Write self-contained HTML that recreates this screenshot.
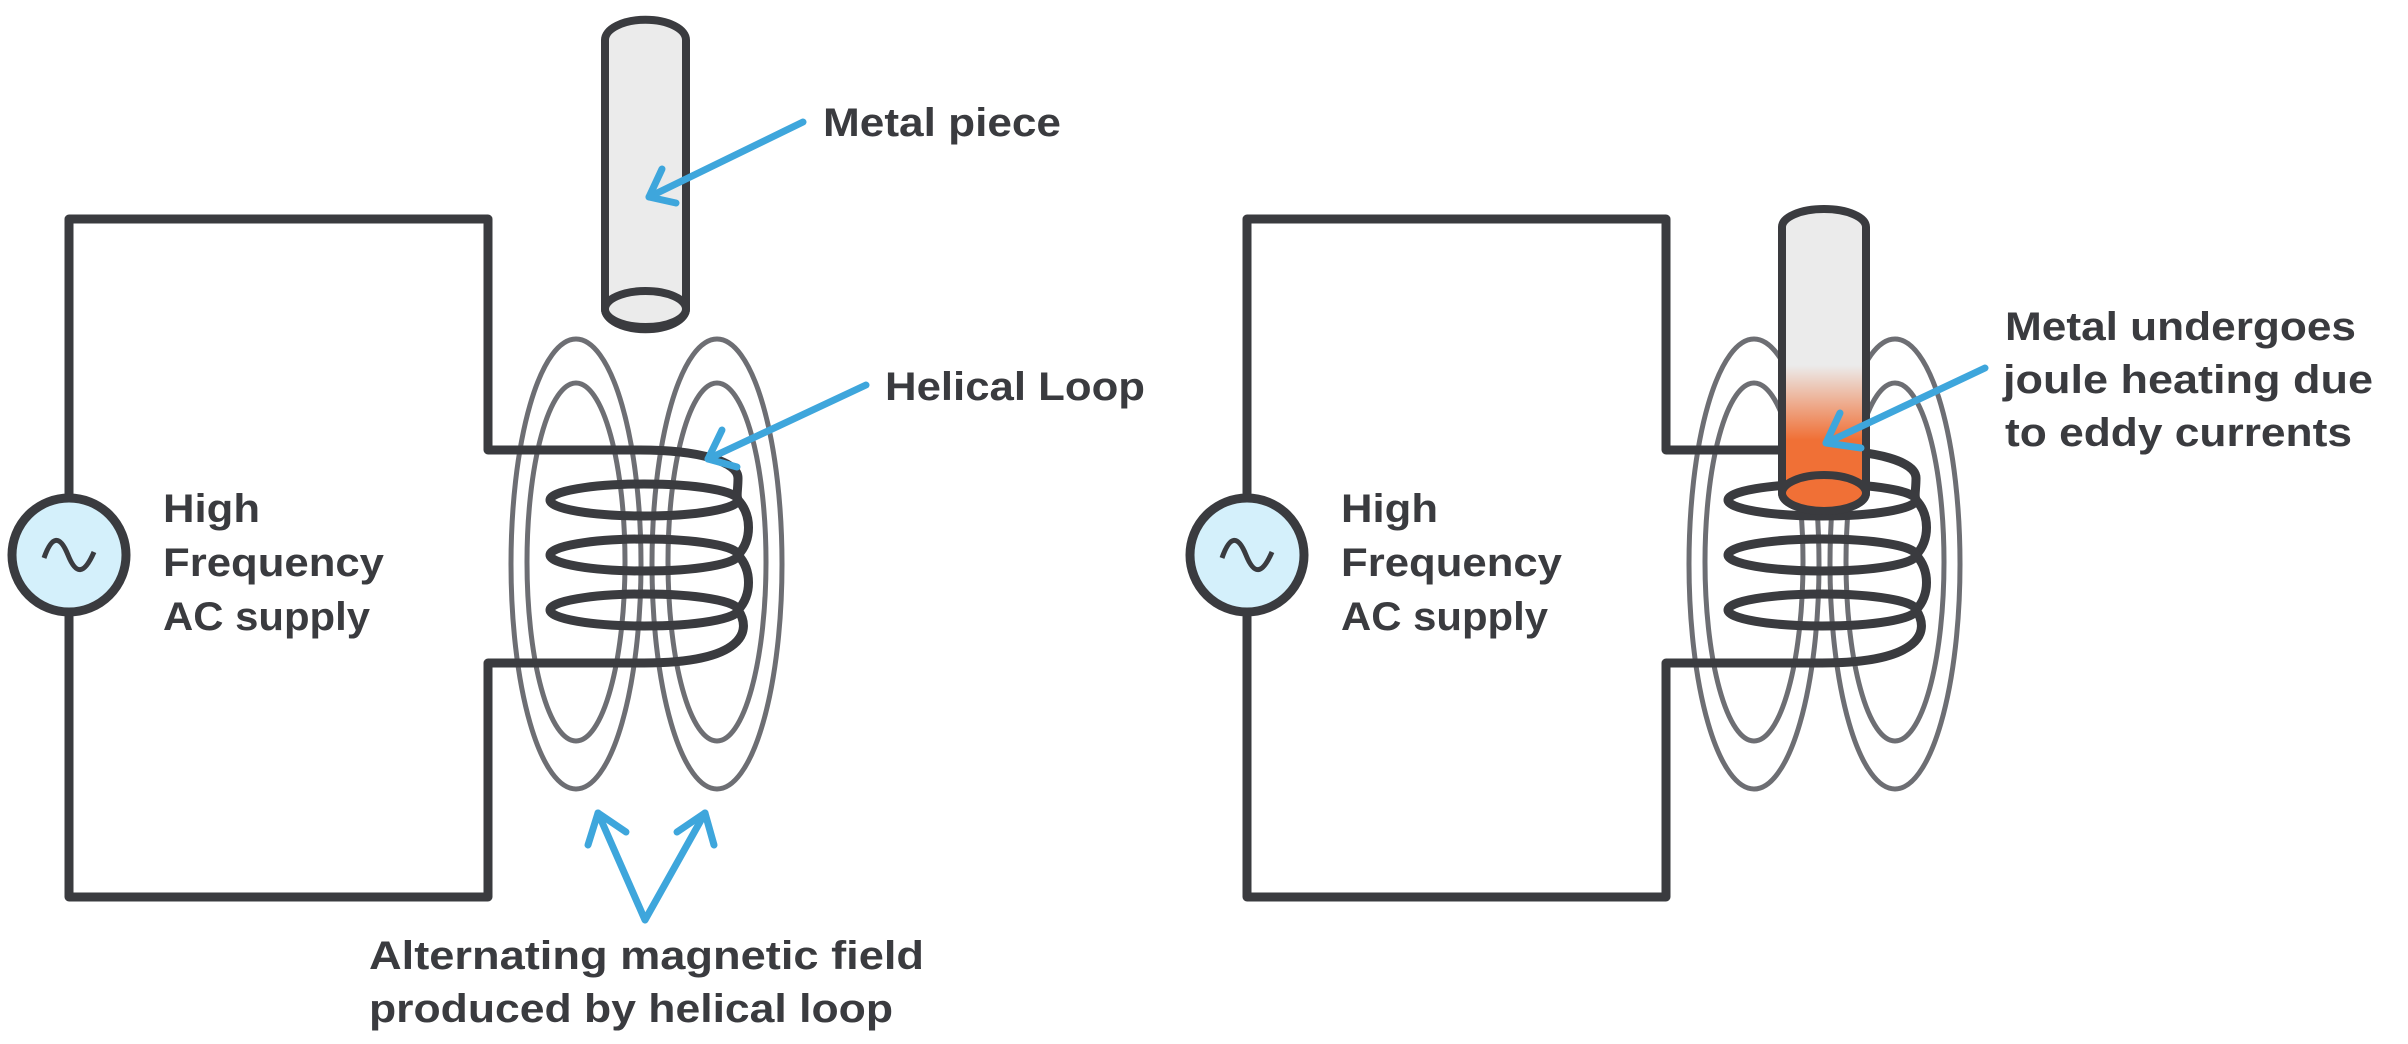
<!DOCTYPE html>
<html><head><meta charset="utf-8"><style>html,body{margin:0;padding:0;background:#fff}svg{display:block}</style></head>
<body>
<svg width="2408" height="1044" viewBox="0 0 2408 1044" xmlns="http://www.w3.org/2000/svg">
<defs>
<linearGradient id="heat" x1="0" y1="227" x2="0" y2="493" gradientUnits="userSpaceOnUse">
<stop offset="0" stop-color="#ebebeb"/><stop offset="0.52" stop-color="#ebebeb"/><stop offset="0.8" stop-color="#f07036"/><stop offset="1" stop-color="#f07036"/>
</linearGradient>
<g id="field" fill="none" stroke="#6d6e73" stroke-width="5">
<ellipse cx="576" cy="564" rx="65" ry="225"/><ellipse cx="576" cy="562" rx="49" ry="179"/>
<ellipse cx="717" cy="564" rx="65" ry="225"/><ellipse cx="717" cy="562" rx="49" ry="179"/>
</g>
<g id="circuit" fill="none" stroke="#3a3b3f" stroke-width="9" stroke-linejoin="round">
<path d="M69,497 V219 H488 V450 H640 C700,450 738,462 738,478 C738,490 736,496 738,500"/>
<path d="M69,613 V897 H488 V663 H644"/>
<ellipse cx="644" cy="500" rx="94" ry="16"/>
<path d="M738,500 C752,515 752,540 738,555"/>
<ellipse cx="644" cy="555" rx="94" ry="16"/>
<path d="M738,555 C752,570 752,595 738,610"/>
<ellipse cx="644" cy="610" rx="94" ry="16"/>
<path d="M738,610 C752,630 745,663 644,663"/>
<circle cx="69" cy="555" r="57" fill="#d4f0fb"/>
<path d="M44,558 C52,535 60,535 68,555 C76,575 84,575 94,552" stroke-width="5"/>
</g>
<g id="lbl" font-family="Liberation Sans, sans-serif" font-weight="bold" font-size="40" fill="#3a3b3f">
<text x="163" y="522" textLength="97" lengthAdjust="spacingAndGlyphs">High</text>
<text x="163" y="576" textLength="221" lengthAdjust="spacingAndGlyphs">Frequency</text>
<text x="163" y="630" textLength="207" lengthAdjust="spacingAndGlyphs">AC supply</text>
</g>
</defs>

<use href="#field"/>
<use href="#circuit"/>
<use href="#lbl"/>
<g transform="translate(1178,0)"><use href="#field"/><use href="#circuit"/><use href="#lbl"/></g>

<g stroke="#3a3b3f" stroke-width="8">
<path d="M605,40 V309 A40,20 0 0 0 686,309 V40 A40,20 0 0 0 605,40 Z" fill="#ebebeb"/>
<ellipse cx="645.5" cy="309" rx="40.5" ry="18" fill="#ebebeb"/>
</g>
<g stroke="#3a3b3f" stroke-width="8">
<path d="M1782,227 V493 A42,18 0 0 0 1866,493 V227 A42,18 0 0 0 1782,227 Z" fill="url(#heat)"/>
<ellipse cx="1824" cy="493" rx="42" ry="18" fill="#f07036"/>
</g>

<g fill="none" stroke="#3ea6dc" stroke-width="7" stroke-linecap="round" stroke-linejoin="round">
<path d="M803,122 L649,197"/><path d="M662,169 L649,197 L676,203"/>
<path d="M866,385 L708,459"/><path d="M722,430 L708,459 L737,467"/>
<path d="M598,813 L645,920 L705,813"/>
<path d="M588,845 L598,813 L626,832"/>
<path d="M677,832 L705,813 L714,845"/>
<path d="M1985,368 L1826,443"/><path d="M1840,413 L1826,443 L1861,448"/>
</g>

<g font-family="Liberation Sans, sans-serif" font-weight="bold" font-size="40" fill="#3a3b3f">
<text x="823" y="136" textLength="238" lengthAdjust="spacingAndGlyphs">Metal piece</text>
<text x="885" y="400" textLength="260" lengthAdjust="spacingAndGlyphs">Helical Loop</text>
<text x="369" y="969" textLength="555" lengthAdjust="spacingAndGlyphs">Alternating magnetic field</text>
<text x="369" y="1022" textLength="524" lengthAdjust="spacingAndGlyphs">produced by helical loop</text>
<text x="2005" y="340" textLength="351" lengthAdjust="spacingAndGlyphs">Metal undergoes</text>
<text x="2003" y="393" textLength="370" lengthAdjust="spacingAndGlyphs">joule heating due</text>
<text x="2005" y="446" textLength="347" lengthAdjust="spacingAndGlyphs">to eddy currents</text>
</g>
</svg>
</body></html>
